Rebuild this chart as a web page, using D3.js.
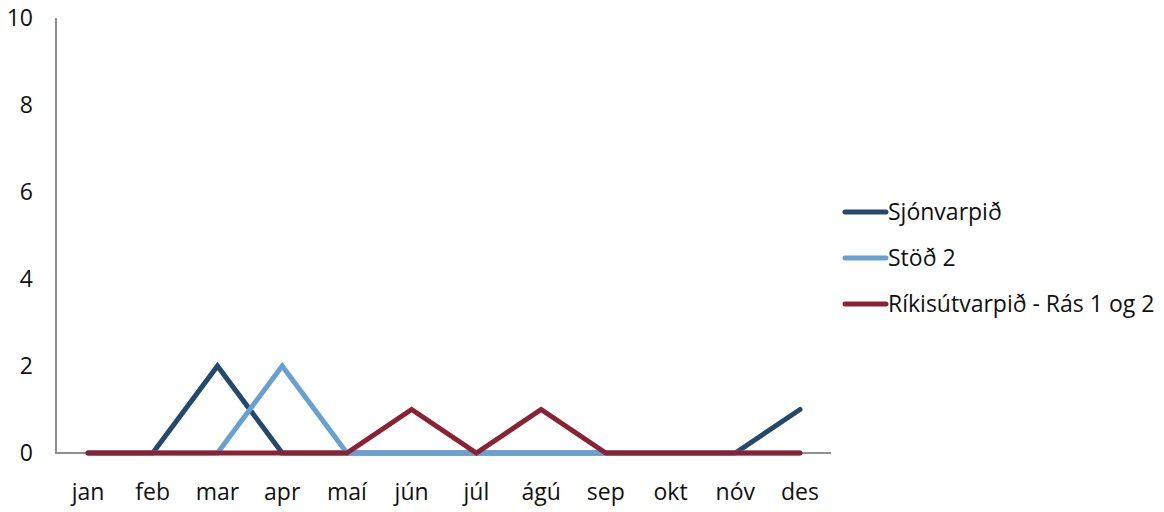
<!DOCTYPE html>
<html>
<head>
<meta charset="utf-8">
<script src="https://cdn.jsdelivr.net/npm/d3@7"></script>
<style>
  body { margin: 0; background: #fff; }
  text { font-family: "Open Sans", Lato, sans-serif; fill: #111; }
</style>
</head>
<body>
<div id="chart"></div>
<script>
var months = ["jan", "feb", "mar", "apr", "maí", "jún", "júl", "ágú", "sep", "okt", "nóv", "des"];
var seriesNames = ["Sjónvarpið", "Stöð 2", "Ríkisútvarpið - Rás 1 og 2"];
var sjonvarpid = [0, 0, 2, 0, 0, 0, 0, 0, 0, 0, 0, 1];
var stod2 = [0, 0, 0, 2, 0, 0, 0, 0, 0, 0, 0, 0];
var rikisutvarpid = [0, 0, 0, 0, 0, 1, 0, 1, 0, 0, 0, 0];
var yTicks = [0, 2, 4, 6, 8, 10];
var colors = ["#24496b", "#68a0d2", "#8a2233"];

var width = 1164, height = 512;
var svg = d3.select("#chart").append("svg")
    .attr("width", width)
    .attr("height", height);

var x = d3.scalePoint().domain(months).range([88, 800]);
var y = d3.scaleLinear().domain([0, 10]).range([453, 18]);

// axes (plain lines, no tick marks)
svg.append("line")
  .attr("x1", 56).attr("x2", 56)
  .attr("y1", y(10)).attr("y2", y(0))
  .attr("stroke", "#8f8f8f").attr("stroke-width", 2);
svg.append("line")
  .attr("x1", 55).attr("x2", 831)
  .attr("y1", y(0)).attr("y2", y(0))
  .attr("stroke", "#8f8f8f").attr("stroke-width", 2);

svg.selectAll(".ylab").data(yTicks).enter().append("text")
  .attr("class", "ylab")
  .attr("x", 33)
  .attr("y", function(d) { return y(d) + 8; })
  .attr("text-anchor", "end")
  .attr("font-size", "23px")
  .text(function(d) { return d; });

svg.selectAll(".xlab").data(months).enter().append("text")
  .attr("class", "xlab")
  .attr("x", function(d) { return x(d); })
  .attr("y", 500)
  .attr("text-anchor", "middle")
  .attr("font-size", "23px")
  .text(function(d) { return d; });

var allSeries = [sjonvarpid, stod2, rikisutvarpid];
var line = d3.line()
  .x(function(d, i) { return x(months[i]); })
  .y(function(d) { return y(d); });

allSeries.forEach(function(s, k) {
  svg.append("path")
    .attr("d", line(s))
    .attr("fill", "none")
    .attr("stroke", colors[k])
    .attr("stroke-width", 5)
    .attr("stroke-linejoin", "miter")
    .attr("stroke-linecap", "round");
});

// legend
var leg = svg.selectAll(".leg").data(seriesNames).enter().append("g")
  .attr("class", "leg")
  .attr("transform", function(d, i) { return "translate(845," + (212 + i * 46) + ")"; });
leg.append("line")
  .attr("x1", 0).attr("x2", 41)
  .attr("stroke", function(d, i) { return colors[i]; })
  .attr("stroke-width", 5)
  .attr("stroke-linecap", "round");
leg.append("text")
  .attr("x", 43).attr("y", 8)
  .attr("font-size", "23px")
  .text(function(d) { return d; });
</script>
</body>
</html>
